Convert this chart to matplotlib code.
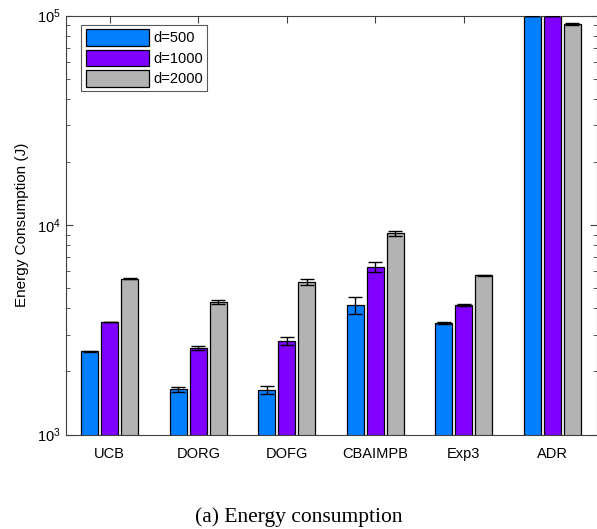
import numpy as np
import matplotlib.pyplot as plt
from matplotlib.ticker import LogLocator, NullFormatter

plt.rcParams['font.family'] = ['Liberation Sans', 'DejaVu Sans']
plt.rcParams['mathtext.default'] = 'regular'

methods = ['UCB', 'DORG', 'DOFG', 'CBAIMPB', 'Exp3', 'ADR']
labels = ['d=500', 'd=1000', 'd=2000']
colors = ['#0080FF', '#8000FF', '#B3B3B3']

e500 = [2490, 1640, 1635, 4150, 3400, 100000]
e1000 = [3440, 2590, 2800, 6290, 4150, 100000]
e2000 = [5550, 4285, 5335, 9130, 5760, 91000]
err500 = [15, 42, 67, 400, 30, 0]
err1000 = [15, 57, 134, 350, 40, 0]
err2000 = [20, 95, 160, 255, 20, 800]

series = [e500, e1000, e2000]
errs = [err500, err1000, err2000]

fig = plt.figure(figsize=(5.97, 5.29), dpi=100)
ax = fig.add_axes([65.5 / 597, 1 - 434.5 / 529, 531 / 597, 419 / 529])

x = np.arange(1, len(methods) + 1)
offsets = [-0.225, 0, 0.225]
for vals, err, off, c, lab in zip(series, errs, offsets, colors, labels):
    ax.bar(x + off, vals, width=0.19, color=c, edgecolor='black',
           linewidth=0.9, label=lab, zorder=2)
    ax.errorbar(x + off, vals, yerr=err, fmt='none', ecolor='black',
                elinewidth=1, capsize=5, capthick=1, zorder=3)

ax.set_yscale('log')
ax.set_ylim(1e3, 1e5)
ax.set_xlim(0.5, 6.5)
ax.set_xticks(x)
ax.set_xticklabels(methods, fontsize=10.5)
ax.yaxis.set_major_locator(LogLocator(base=10))
ax.yaxis.set_minor_locator(LogLocator(base=10, subs=np.arange(2, 10)))
ax.yaxis.set_minor_formatter(NullFormatter())
ax.tick_params(axis='both', which='both', direction='in', top=True, right=True,
               labelsize=10.5, color='#404040')
ax.tick_params(axis='y', which='major', length=5)
ax.tick_params(axis='y', which='minor', length=3)
ax.tick_params(axis='x', length=5, pad=9)
for s in ax.spines.values():
    s.set_color('#404040')
    s.set_linewidth(0.8)
ax.set_ylabel('Energy Consumption (J)', fontsize=11, labelpad=6)

leg = ax.legend(loc='upper left', bbox_to_anchor=(0.03, 0.978), fontsize=10.5,
                fancybox=False, edgecolor='#303030', handlelength=4.3,
                handleheight=1.4, handletextpad=0.3, borderpad=0.3,
                labelspacing=0.25, borderaxespad=0)
leg.get_frame().set_linewidth(0.8)

fig.text(0.5, 1 - 517 / 529, '(a) Energy consumption', ha='center', va='center',
         fontsize=15.5, family=['Liberation Serif', 'DejaVu Serif'])

fig.savefig('out.png', dpi=100)
